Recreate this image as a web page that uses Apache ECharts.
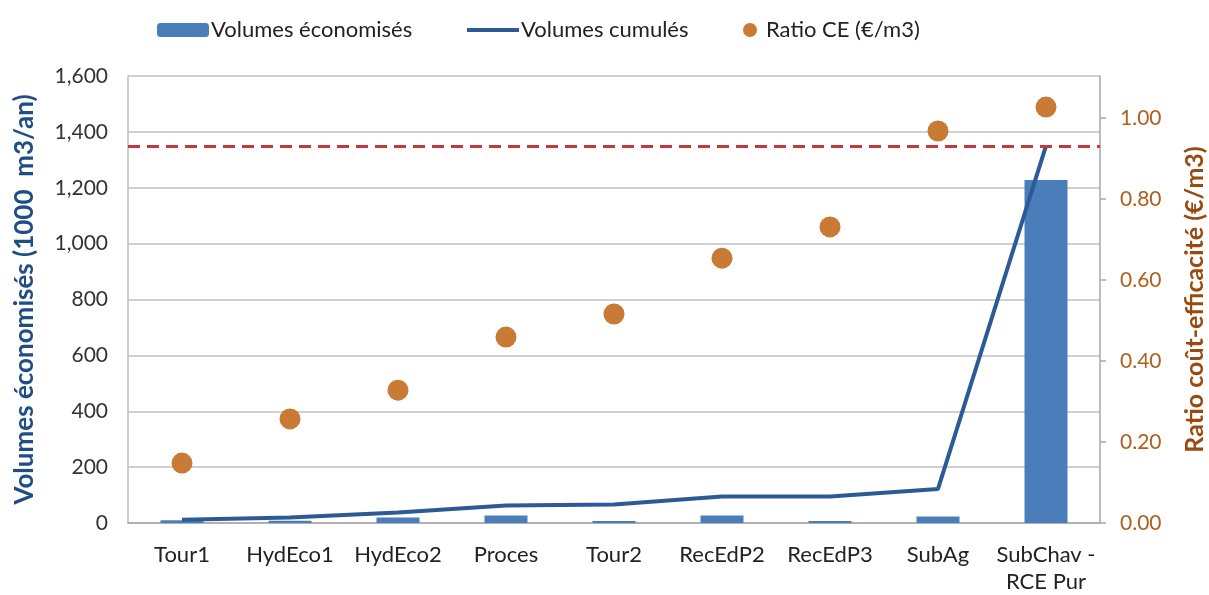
<!DOCTYPE html>
<html><head><meta charset="utf-8">
<script src="https://cdn.jsdelivr.net/npm/echarts@6/dist/echarts.min.js"></script>
<style>html,body{margin:0;padding:0;background:#fff}#c{width:1209px;height:595px}</style>
</head><body><div id="c"></div>
<script>
const categories = ['Tour1','HydEco1','HydEco2','Proces','Tour2','RecEdP2','RecEdP3','SubAg','SubChav -\nRCE Pur'];
const volumesEconomises = [10, 8, 20, 27, 7, 27, 7, 23, 1228];
const volumesCumules = [12, 20, 38, 63, 66, 95, 95, 122, 1350];
const ratioCE = [0.148, 0.257, 0.328, 0.459, 0.516, 0.654, 0.731, 0.968, 1.027];
const seuil = 1350;
const leftTicks = {min: 0, max: 1600, interval: 200};
const rightTicks = {min: 0, max: 1.1037, interval: 0.2};

const font = 'Lato, "Noto Sans", sans-serif';
const chart = echarts.init(document.getElementById('c'));
chart.setOption({
  animation: false,
  textStyle: {fontFamily: font},
  grid: {left: 128, right: 109, top: 76, bottom: 72, containLabel: false, outerBoundsMode: 'none'},
  legend: [
    {data: ['Volumes économisés'], left: 152, top: 14, itemWidth: 52, itemHeight: 14,
     textStyle: {fontSize: 22, color: '#222', fontFamily: font, padding: [0,0,0,-3]}},
    {data: [{name: 'Volumes cumulés', icon: 'rect'}], left: 462, top: 14, itemWidth: 52, itemHeight: 4,
     textStyle: {fontSize: 22, color: '#222', fontFamily: font, padding: [0,0,0,-3]}},
    {data: [{name: 'Ratio CE (€/m3)', icon: 'circle'}], left: 738, top: 14, itemWidth: 14, itemHeight: 14,
     textStyle: {fontSize: 22, color: '#222', fontFamily: font, padding: [0,0,0,4]}}
  ],
  xAxis: {
    type: 'category', data: categories,
    axisLine: {lineStyle: {color: '#A6A6A6', width: 1.5}},
    axisTick: {show: false},
    axisLabel: {interval: 0, fontSize: 22, color: '#222', margin: 18, lineHeight: 27, fontFamily: font, hideOverlap: false}
  },
  yAxis: [
    {type: 'value', min: leftTicks.min, max: leftTicks.max, interval: leftTicks.interval,
     name: 'Volumes économisés (1000  m3/an)', nameLocation: 'middle', nameGap: 90, nameRotate: 90,
     nameTextStyle: {fontSize: 26, fontWeight: 'bold', color: '#1F4E86', fontFamily: font},
     axisLine: {show: true, lineStyle: {color: '#BFBFBF', width: 1.5}},
     axisTick: {show: false},
     axisLabel: {fontSize: 21, color: '#333', margin: 20, fontFamily: font,
       formatter: v => v.toLocaleString('en-US')},
     splitLine: {lineStyle: {color: '#BFBFBF', width: 1.5}}},
    {type: 'value', min: rightTicks.min, max: rightTicks.max, interval: rightTicks.interval, position: 'right',
     name: 'Ratio coût-efficacité (€/m3)', nameLocation: 'middle', nameGap: 82, nameRotate: 90,
     nameTextStyle: {fontSize: 25, fontWeight: 'bold', color: '#9A4A0E', fontFamily: font},
     axisLine: {show: true, lineStyle: {color: '#A6A6A6', width: 1.5}},
     axisTick: {show: true, length: 6, lineStyle: {color: '#A6A6A6', width: 1.5}},
     axisLabel: {fontSize: 21, color: '#B0601E', margin: 20, showMaxLabel: false, fontFamily: font,
       formatter: v => v.toFixed(2)},
     splitLine: {show: false}}
  ],
  series: [
    {name: 'Volumes économisés', type: 'bar', data: volumesEconomises, barWidth: 43,
     itemStyle: {color: '#4A7EBB'}, z: 2,
     markLine: {silent: true, symbol: 'none', label: {show: false},
       lineStyle: {color: '#C0393B', type: [12, 7], width: 3},
       data: [{yAxis: seuil}]}},
    {name: 'Volumes cumulés', type: 'line', data: volumesCumules, symbol: 'none',
     lineStyle: {color: '#2C5A96', width: 4}, itemStyle: {color: '#2C5A96'}, z: 3},
    {name: 'Ratio CE (€/m3)', type: 'scatter', yAxisIndex: 1, data: ratioCE, symbolSize: 21,
     itemStyle: {color: '#C97A35', opacity: 1}, z: 4}
  ]
});
</script></body></html>
